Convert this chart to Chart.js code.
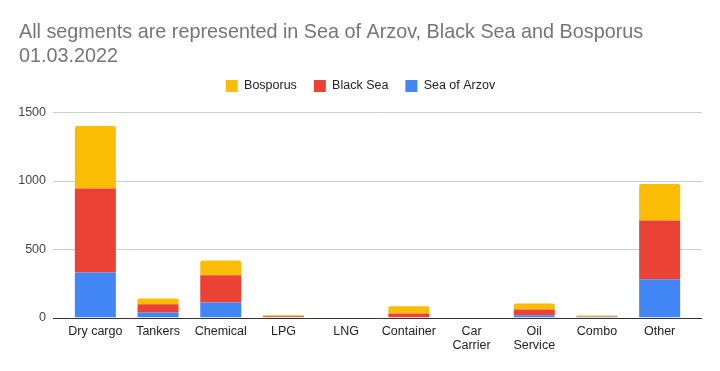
<!DOCTYPE html>
<html>
<head>
<meta charset="utf-8">
<script src="https://cdn.jsdelivr.net/npm/chart.js@4/dist/chart.umd.min.js"></script>
<style>
  html, body { margin: 0; padding: 0; background: #fff; }
  #wrap { width: 720px; height: 371px; }
</style>
</head>
<body>
<div id="wrap"><canvas id="chart"></canvas></div>
<script>
// values
var categories = ['Dry cargo', 'Tankers', 'Chemical', 'LPG', 'LNG', 'Container',
                  ['Car', 'Carrier'], ['Oil', 'Service'], 'Combo', 'Other'];
var seaOfArzov = [328, 36, 109, 2, 0, 0, 0, 17, 5, 280];
var blackSea   = [614, 61, 200, 8, 0, 29, 0, 41, 3, 428];
var bosporus   = [458, 42, 107, 7, 0, 53, 0, 44, 7, 268];
var yTicks     = [0, 500, 1000, 1500];

var BLUE = '#4285f4', RED = '#ea4335', YELLOW = '#fbbc04';
var FONT = "Arial, 'Liberation Sans', sans-serif";
var GRID_EXTRA = 11; // gridlines reach a little past the first/last bar slot

// horizontal gridlines + baseline, a bit wider than the category area
var gridPlugin = {
  id: 'wideGrid',
  beforeDatasetsDraw: function (chart) {
    var ctx = chart.ctx, y = chart.scales.y, a = chart.chartArea;
    ctx.save();
    yTicks.forEach(function (v) {
      var py = Math.round(y.getPixelForValue(v)) + 0.5;
      ctx.strokeStyle = v === 0 ? '#333333' : '#cccccc';
      ctx.lineWidth = 1;
      ctx.beginPath();
      ctx.moveTo(a.left - GRID_EXTRA, py);
      ctx.lineTo(a.right + GRID_EXTRA, py);
      ctx.stroke();
    });
    ctx.restore();
  }
};

// empty spacer axes, only used to shape the plot area
function spacer(pos, size) {
  return {
    position: pos, display: true,
    afterFit: function (s) { if (pos === 'top') s.height = size; else s.width = size; },
    grid: { display: false, drawTicks: false },
    border: { display: false },
    ticks: { display: false }
  };
}

new Chart(document.getElementById('chart'), {
  type: 'bar',
  data: {
    labels: categories,
    datasets: [
      { label: 'Sea of Arzov', data: seaOfArzov, backgroundColor: BLUE },
      { label: 'Black Sea', data: blackSea, backgroundColor: RED },
      { label: 'Bosporus', data: bosporus, backgroundColor: YELLOW,
        borderRadius: { topLeft: 2, topRight: 2 }, borderSkipped: 'bottom' }
    ]
  },
  plugins: [gridPlugin],
  options: {
    responsive: true, maintainAspectRatio: false, animation: false,
    layout: { padding: { left: 19, right: 18, top: 0, bottom: 12 } },
    datasets: { bar: { categoryPercentage: 1, barPercentage: 0.654 } },
    plugins: {
      title: {
        display: true, align: 'start', color: '#757575',
        text: ['All segments are represented in Sea of Arzov, Black Sea and Bosporus', '01.03.2022'],
        font: { family: FONT, size: 19.8, weight: 'normal', lineHeight: 1.18 },
        padding: { top: 21, bottom: -5 }
      },
      legend: {
        reverse: true,
        labels: { color: '#222222', boxWidth: 12, boxHeight: 12, padding: 17,
                  font: { family: FONT, size: 12.5 } }
      },
      tooltip: { enabled: false }
    },
    scales: {
      x: {
        stacked: true,
        grid: { display: false, drawTicks: false },
        border: { display: false },
        ticks: { color: '#222222', padding: 7, maxRotation: 0, autoSkip: false,
                 font: { family: FONT, size: 12.5, lineHeight: 1.1 } }
      },
      x2: spacer('top', 10),
      y: {
        stacked: true, min: 0, max: 1500,
        afterFit: function (s) { s.width = 45; },
        afterBuildTicks: function (s) { s.ticks = yTicks.map(function (v) { return { value: v }; }); },
        grid: { display: false, drawTicks: false },
        border: { display: false },
        ticks: { color: '#444444', padding: 18, font: { family: FONT, size: 12.5 },
                 callback: function (v) { return String(v); } }
      },
      y2: spacer('right', GRID_EXTRA)
    }
  }
});
</script>
</body>
</html>
